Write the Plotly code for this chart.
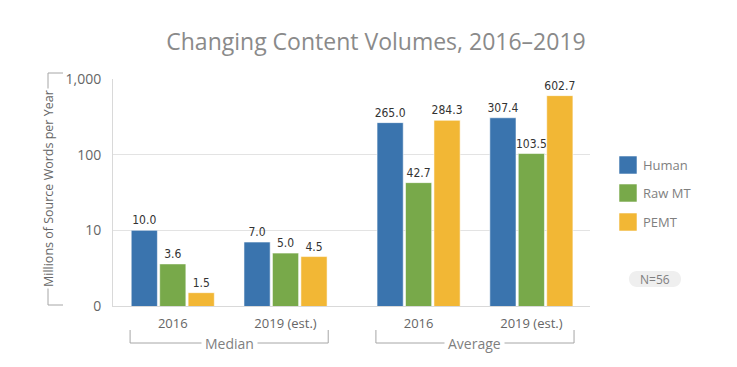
import plotly.graph_objects as go

# ---------------- data ----------------
group_names = ["Median", "Average"]
years = ["2016", "2019 (est.)", "2016", "2019 (est.)"]
x_pos = [0, 1, 2.18, 3.18]
series_names = ["Human", "Raw MT", "PEMT"]
human = [10.0, 7.0, 265.0, 307.4]
raw_mt = [3.6, 5.0, 42.7, 103.5]
pemt = [1.5, 4.5, 284.3, 602.7]
y_tickvals = [1, 10, 100, 1000]
y_ticktext = ["0", "10", "100", "1,000"]
sample_note = "N=56"

# ---------------- style ----------------
colors = ["#3a74ae", "#78a94a", "#f2b735"]
W, H = 737, 367
ML, MR, MT, MB = 113, 147, 79, 61
PW, PH = W - ML - MR, H - MT - MB
BARGAP = 0.243
BARGROUPGAP = 0.08
GRAY = "#7f7f7f"
LINE = "#d9d9d9"
FONT = "Open Sans, Noto Sans, sans-serif"
NARROW = "Liberation Sans Narrow, DejaVu Sans Condensed, Liberation Sans, sans-serif"


def px_x(px):
    return (px - ML) / PW


def px_y(py):
    return (H - MB - py) / PH


fig = go.Figure()
for name, vals, col in zip(series_names, [human, raw_mt, pemt], colors):
    fig.add_trace(go.Bar(
        x=x_pos, y=vals, name=name,
        marker=dict(color=col, line=dict(color="rgba(255,255,255,0.55)", width=1)),
        texttemplate="%{y:.1f}", textposition="outside",
        textfont=dict(family=NARROW, size=12, color="#333333"),
        cliponaxis=False, showlegend=False,
    ))

shapes = []
annotations = []

# group brackets under x axis
half = (1 - BARGAP) / 2
y_top, y_bot = px_y(330), px_y(343)
for gi, gname in enumerate(group_names):
    xa = x_pos[2 * gi] - half
    xb = x_pos[2 * gi + 1] + half
    path = f"M {xa},{y_top} L {xa},{y_bot} L {xb},{y_bot} L {xb},{y_top}"
    shapes.append(dict(type="path", path=path, xref="x", yref="paper",
                       line=dict(color="#a6a6a6", width=1)))
    annotations.append(dict(x=(x_pos[2 * gi] + x_pos[2 * gi + 1]) / 2, y=y_bot,
                            xref="x", yref="paper", text=gname, showarrow=False,
                            font=dict(family=FONT, size=14, color=GRAY),
                            bgcolor="white", borderpad=3, xanchor="center", yanchor="middle"))

# y-axis title bracket
bx, bt = px_x(48), px_x(63)
yt, yb = px_y(73), px_y(305)
shapes.append(dict(type="path",
                   path=f"M {bt},{yt} L {bx},{yt} L {bx},{yb} L {bt},{yb}",
                   xref="paper", yref="paper", line=dict(color="#a6a6a6", width=1)))
annotations.append(dict(x=bx, y=(yt + yb) / 2, xref="paper", yref="paper",
                        text="Millions of Source Words per Year", textangle=-90,
                        showarrow=False, bgcolor="white", borderpad=1,
                        font=dict(family=FONT, size=12.5, color="#666666"),
                        xanchor="center", yanchor="middle"))

# custom legend
leg_cy = [165, 193, 222]
for name, col, cy in zip(series_names, colors, leg_cy):
    shapes.append(dict(type="rect", xref="paper", yref="paper",
                       xsizemode="pixel", ysizemode="pixel",
                       xanchor=px_x(628), yanchor=px_y(cy),
                       x0=-9, x1=9, y0=-9, y1=9,
                       fillcolor=col, line=dict(color="rgba(255,255,255,0.55)", width=1)))
    annotations.append(dict(x=px_x(641), y=px_y(cy), xref="paper", yref="paper",
                            text=name, showarrow=False, xanchor="left", yanchor="middle",
                            font=dict(family=FONT, size=13, color=GRAY)))

# N=56 pill
shapes.append(dict(type="path", xref="paper", yref="paper",
                   xsizemode="pixel", ysizemode="pixel",
                   xanchor=px_x(655), yanchor=px_y(279),
                   path="M -18,-8 H 18 C 28.7,-8 28.7,8 18,8 H -18 C -28.7,8 -28.7,-8 -18,-8 Z",
                   fillcolor="#efefef", line=dict(width=0)))
annotations.append(dict(x=px_x(655), y=px_y(279), xref="paper", yref="paper",
                        text=sample_note, showarrow=False, xanchor="center", yanchor="middle",
                        font=dict(family=FONT, size=12, color=GRAY)))

fig.update_layout(
    width=W, height=H,
    margin=dict(l=ML, r=MR, t=MT, b=MB, pad=0),
    paper_bgcolor="white", plot_bgcolor="white",
    barmode="group", bargap=BARGAP, bargroupgap=BARGROUPGAP,
    title=dict(text="Changing Content Volumes, 2016–2019", x=376 / W, xref="container",
               xanchor="center", y=1 - 42 / H, yanchor="middle",
               font=dict(family=FONT, size=23, color="#8a8a8a")),
    shapes=shapes, annotations=annotations,
    showlegend=False,
)
fig.update_traces(constraintext="none")
fig.update_xaxes(range=[-0.53, 3.70], tickvals=x_pos, ticktext=years,
                 showgrid=False, zeroline=False, showline=True, linecolor=LINE,
                 ticks="", ticklabelstandoff=5,
                 tickfont=dict(family=FONT, size=13, color="#666666"))
fig.update_yaxes(type="log", range=[0, 3], tickvals=y_tickvals, ticktext=y_ticktext,
                 showgrid=True, gridcolor="#e3e3e3", zeroline=False,
                 showline=True, linecolor=LINE, ticks="", ticklabelstandoff=8,
                 tickfont=dict(family=FONT, size=14, color="#666666"))

fig.write_html("out.html", config={"displayModeBar": False},
               post_script="document.body.style.margin='0px';")
